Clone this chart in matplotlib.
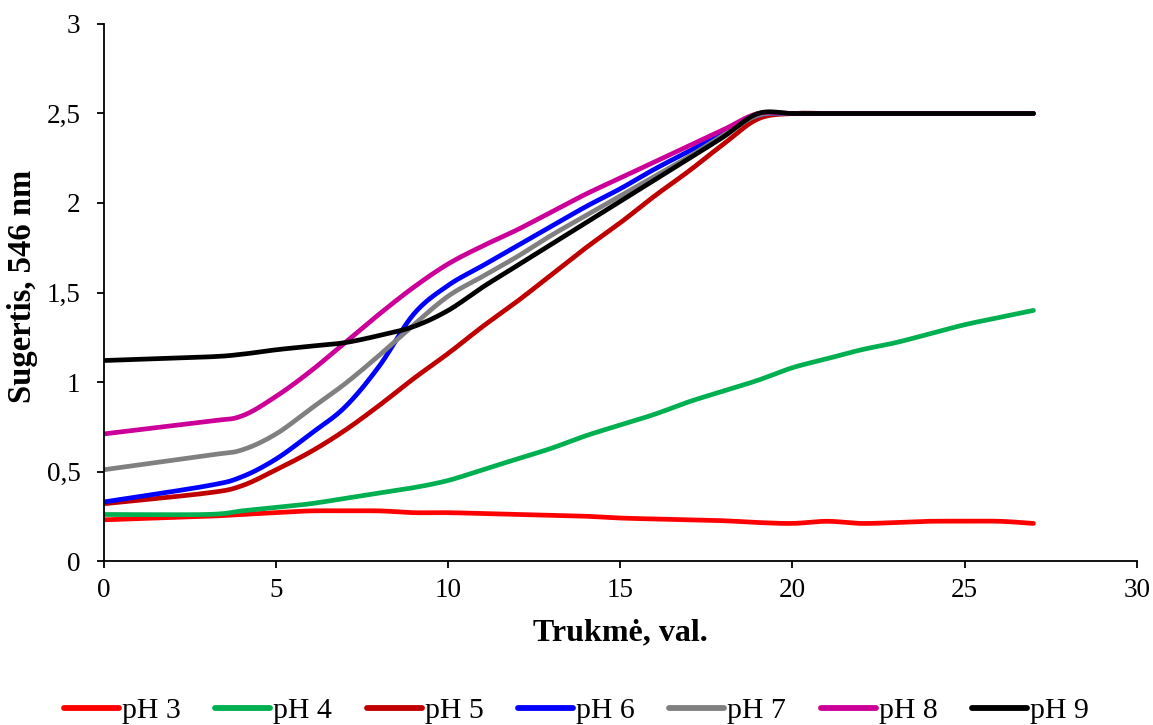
import numpy as np
import matplotlib.pyplot as plt
from matplotlib.ticker import FuncFormatter

plt.rcParams['font.family'] = ['Liberation Serif', 'DejaVu Serif']

# Time, h
hours = [0, 3, 4, 5, 6, 7, 8, 9, 10, 11, 12, 13, 14, 15, 16, 17, 18, 19,
         20, 21, 22, 23, 24, 25, 26, 27]

ph3 = [0.23, 0.25, 0.26, 0.27, 0.28, 0.28, 0.28, 0.27, 0.27, 0.265, 0.26, 0.255, 0.25,
       0.24, 0.235, 0.23, 0.225, 0.215, 0.21, 0.222, 0.21, 0.215, 0.222, 0.222, 0.222, 0.21]
ph4 = [0.26, 0.26, 0.28, 0.30, 0.32, 0.35, 0.38, 0.41, 0.45, 0.51, 0.57, 0.63, 0.70,
       0.76, 0.82, 0.89, 0.95, 1.01, 1.08, 1.13, 1.18, 1.22, 1.27, 1.32, 1.36, 1.40]
ph5 = [0.32, 0.38, 0.42, 0.51, 0.61, 0.73, 0.87, 1.02, 1.16, 1.31, 1.45, 1.60, 1.75,
       1.89, 2.04, 2.18, 2.33, 2.47, 2.50, 2.50, 2.50, 2.50, 2.50, 2.50, 2.50, 2.50]
ph6 = [0.33, 0.42, 0.47, 0.57, 0.71, 0.86, 1.09, 1.38, 1.54, 1.65, 1.76, 1.87, 1.98,
       2.08, 2.19, 2.29, 2.39, 2.49, 2.50, 2.50, 2.50, 2.50, 2.50, 2.50, 2.50, 2.50]
ph7 = [0.51, 0.59, 0.62, 0.71, 0.85, 0.99, 1.15, 1.32, 1.48, 1.59, 1.70, 1.82, 1.93,
       2.04, 2.15, 2.26, 2.38, 2.49, 2.50, 2.50, 2.50, 2.50, 2.50, 2.50, 2.50, 2.50]
ph8 = [0.71, 0.78, 0.81, 0.92, 1.06, 1.22, 1.38, 1.53, 1.66, 1.76, 1.85, 1.95, 2.05,
       2.14, 2.23, 2.32, 2.41, 2.50, 2.50, 2.50, 2.50, 2.50, 2.50, 2.50, 2.50, 2.50]
ph9 = [1.12, 1.14, 1.155, 1.18, 1.20, 1.22, 1.26, 1.31, 1.40, 1.53, 1.65, 1.77, 1.89,
       2.01, 2.13, 2.25, 2.37, 2.50, 2.50, 2.50, 2.50, 2.50, 2.50, 2.50, 2.50, 2.50]

labels = ['pH 3', 'pH 4', 'pH 5', 'pH 6', 'pH 7', 'pH 8', 'pH 9']
colours = ['#FF0000', '#00B050', '#C00000', '#0000FF', '#808080', '#CC0099', '#000000']


def smooth(x, y, n=20):
    # Excel-like smoothed line: Catmull-Rom segments as cubic Bezier curves
    p = np.column_stack([x, y]).astype(float)
    p = np.vstack([p[0], p, p[-1]])
    out = []
    t = np.linspace(0, 1, n, endpoint=False)[:, None]
    for i in range(1, len(p) - 2):
        b0 = p[i]
        b1 = p[i] + (p[i + 1] - p[i - 1]) / 6
        b2 = p[i + 1] - (p[i + 2] - p[i]) / 6
        b3 = p[i + 1]
        seg = ((1 - t) ** 3) * b0 + 3 * ((1 - t) ** 2) * t * b1 + 3 * (1 - t) * t ** 2 * b2 + t ** 3 * b3
        out.append(seg)
    out.append(p[-2][None, :])
    out = np.vstack(out)
    return out[:, 0], out[:, 1]


fig = plt.figure(figsize=(11.53, 7.25), dpi=100)
ax = fig.add_axes([0.0902, 0.2262, 0.8957, 0.7407])

for vals, lab, col in zip([ph3, ph4, ph5, ph6, ph7, ph8, ph9], labels, colours):
    sx, sy = smooth(hours, vals)
    ax.plot(sx, sy, color=col, lw=3.4, label=lab, solid_capstyle='round')

ax.set_xlim(0, 30)
ax.set_ylim(0, 3)
ax.set_xticks([0, 5, 10, 15, 20, 25, 30])
ax.set_yticks([0, 0.5, 1, 1.5, 2, 2.5, 3])
ax.yaxis.set_major_formatter(FuncFormatter(lambda v, pos: ('%g' % v).replace('.', ',')))

for s in ['top', 'right']:
    ax.spines[s].set_visible(False)
for s in ['left', 'bottom']:
    ax.spines[s].set_linewidth(1.3)
ax.tick_params(direction='out', length=5, width=1.3, labelsize=19.5)
ax.tick_params(axis='x', pad=7)
ax.tick_params(axis='y', pad=12)

ax.set_xlabel('Trukmė, val.', fontsize=23, fontweight='bold', va='center')
ax.set_ylabel('Sugertis, 546 nm', fontsize=23.5, fontweight='bold', va='center')
ax.xaxis.set_label_coords(0.5, -0.134)
ax.yaxis.set_label_coords(-0.079, 0.512)

leg = ax.legend(loc='center', bbox_to_anchor=(0.5, 0.02), bbox_transform=fig.transFigure,
                ncol=7, frameon=False, fontsize=21.5, handlelength=1.84,
                handletextpad=0.1, columnspacing=1.16, borderpad=0)
for h in leg.get_lines():
    h.set_linewidth(4.2)

fig.savefig('out.png', dpi=100)
